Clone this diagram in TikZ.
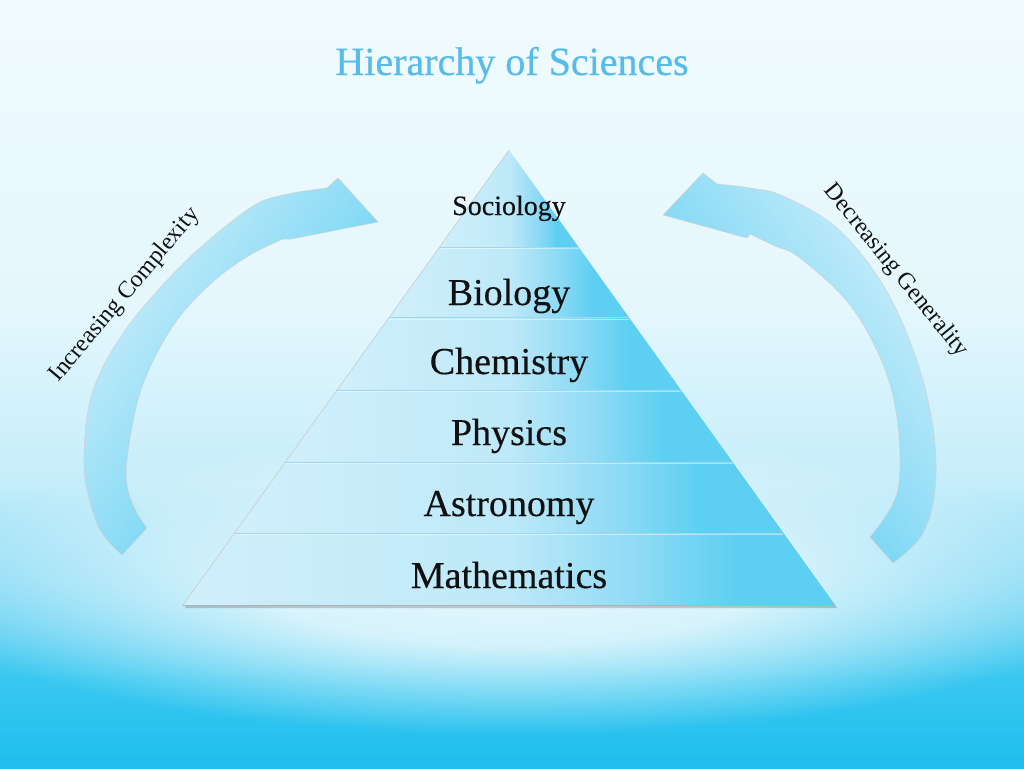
\documentclass[tikz,border=0pt]{standalone}
\usepackage{fontspec}
\setmainfont{Liberation Serif}
\newfontfamily\tierfont{Liberation Serif}[FakeBold=0.35]
\newfontfamily\titlefont{Liberation Serif}[FakeBold=0.5]
\usetikzlibrary{calc,fadings}
\definecolor{bgA}{HTML}{F0FBFE}
\definecolor{bgA2}{HTML}{E4F7FD}
\definecolor{bgB}{HTML}{C6EEFA}
\definecolor{bgB2}{HTML}{86DAF5}
\definecolor{bgC}{HTML}{38C7F0}
\definecolor{bgD}{HTML}{1FBEEE}
\definecolor{glow}{HTML}{EEFAFE}
\definecolor{pA}{HTML}{D0EFFB}
\definecolor{pB}{HTML}{BEE9F8}
\definecolor{pC}{HTML}{8EDAF5}
\definecolor{pD}{HTML}{5CCFF2}
\definecolor{arPale}{HTML}{CDEEFA}
\definecolor{arSat}{HTML}{50CBF2}
\definecolor{titlecol}{HTML}{58BBE8}
\definecolor{sepcol}{HTML}{9FD8EE}
\definecolor{txt}{HTML}{111111}
\pgfdeclareverticalshading{bgshade}{100bp}{color(0bp)=(bgD); color(25bp)=(bgD); color(30.7bp)=(bgC); color(37.2bp)=(bgB2); color(43.7bp)=(bgB); color(55bp)=(bgA2); color(75bp)=(bgA); color(100bp)=(bgA)}
\pgfdeclarehorizontalshading{tiershade}{100bp}{color(0bp)=(pA); color(25bp)=(pA); color(50bp)=(pB); color(60bp)=(pC); color(67.5bp)=(pD); color(100bp)=(pD)}
\pgfdeclareradialshading{glowfade}{\pgfpoint{0bp}{0bp}}{color(0bp)=(pgftransparent!0); color(10bp)=(pgftransparent!10); color(25bp)=(pgftransparent!100); color(50bp)=(pgftransparent!100)}
\pgfdeclarefading{softglow}{\pgfuseshading{glowfade}}
\tikzset{
  tier/.style={text=txt, inner sep=0pt, anchor=base, font=\tierfont\fontsize{38}{44}\selectfont},
  sidelabel/.style={text=txt, inner sep=0pt, font=\fontsize{24}{28}\selectfont},
  separator/.style={draw=sepcol, line width=1pt},
  arrowshape/.style={draw=black!18, line width=0.5pt},
  tierfill/.style={shading=tiershade},
}
\begin{document}
\begin{tikzpicture}[x=1pt,y=-1pt]
\useasboundingbox (0,0) rectangle (1024,768);
% background
\shade[shading=bgshade] (0,0) rectangle (1024,768);
\fill[glow, path fading=softglow, fit fading=true, opacity=0.92] (512,585) ellipse [x radius=610, y radius=150];

% title
\node[text=titlecol, inner sep=0pt, anchor=base, font=\titlefont\fontsize{40}{46}\selectfont] (title) at (512,75) {Hierarchy of Sciences};

% pyramid
\coordinate (apex) at (509,150);
\coordinate (bl) at (183,605);
\coordinate (br) at (835,605);
\fill[black, opacity=0.18] ($(apex)+(1,3)$) -- ($(bl)+(2,3)$) -- ($(br)+(2,3)$) -- cycle;
\coordinate (sl0) at (apex);
\coordinate (sr0) at (apex);
\foreach \t/\n in {0.2132/1,0.3692/2,0.5275/3,0.6857/4,0.8418/5,1/6}{
  \coordinate (sl\n) at ($(apex)!\t!(bl)$);
  \coordinate (sr\n) at ($(apex)!\t!(br)$);
}
\shade[tierfill] (sl0) -- (sl1) -- (sr1) -- cycle;
\foreach \a/\b in {1/2,2/3,3/4,4/5,5/6}{
  \shade[tierfill] (sl\a) -- (sl\b) -- (sr\b) -- (sr\a) -- cycle;
}
\draw[black!22, line width=0.5pt] (apex) -- (bl);
\foreach \n in {1,...,5}{
  \draw[separator] (sl\n) -- (sr\n);
  \draw[white, opacity=0.45, line width=0.8pt] ($(sl\n)+(0,1.2)$) -- ($(sr\n)+(0,1.2)$);
}
\draw[black!30, line width=0.8pt] (bl) -- (br);

\node[tier, font=\tierfont\fontsize{28}{32}\selectfont] (soc) at (509,215) {Sociology};
\node[tier] (bio) at (509,305) {Biology};
\node[tier] (chem) at (509,374) {Chemistry};
\node[tier] (phys) at (509,445) {Physics};
\node[tier] (astr) at (509,516) {Astronomy};
\node[tier] (math) at (509,588) {Mathematics};

% left curved arrow
\shade[left color=arPale, right color=arSat, shading angle=55, arrowshape]
  plot[smooth, tension=0.6] coordinates {(122,555) (100,530) (87,490) (84,457) (88,410) (100,373) (120,338) (145,305) (192,255) (250,208) (283,195) (327,188)}
  -- (338,178) -- (378,222) -- (291,239)
  -- plot[smooth, tension=0.6] coordinates {(283,239) (250,255) (215,280) (181,315) (156,355) (138,400) (127,460) (128,490) (137,513) (147,528)}
  -- cycle;

% right curved arrow
\shade[left color=arSat, right color=arPale, shading angle=125, arrowshape]
  (663,215) -- (703,173) -- (717,184)
  -- plot[smooth, tension=0.6] coordinates {(717,184) (750,188) (783,196) (837,228) (883,285) (915,355) (933,427) (935,490) (922,535) (893,563)}
  -- plot[smooth, tension=0.6] coordinates {(870,537) (897,493) (898,427) (884,367) (850,305) (800,258) (775,246) (750,234)}
  -- (747,238) -- cycle;

\node[sidelabel, rotate=50] (inc) at (125,295) {Increasing Complexity};
\node[sidelabel, rotate=-51] (dec) at (896,271) {Decreasing Generality};
\end{tikzpicture}
\end{document}
